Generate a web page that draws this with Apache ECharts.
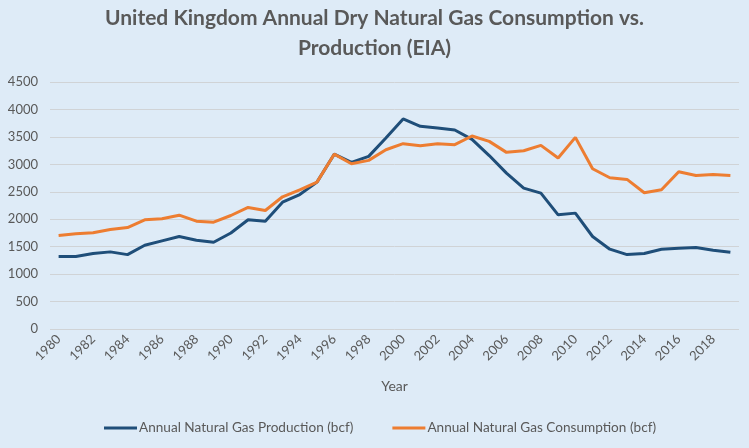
<!DOCTYPE html>
<html>
<head>
<meta charset="utf-8">
<script src="https://cdn.jsdelivr.net/npm/echarts@6/dist/echarts.min.js"></script>
<style>
html,body{margin:0;padding:0;background:#DEEBF7;}
#c{width:749px;height:448px;}
</style>
</head>
<body>
<div id="c"></div>
<script>
const years = [];
for (let y = 1980; y <= 2019; y++) years.push(String(y));
const production = [1320,1320,1375,1405,1355,1525,1605,1685,1618,1580,1750,1990,1965,2310,2450,2676,3185,3035,3145,3480,3826,3692,3662,3625,3455,3160,2840,2567,2476,2080,2111,1685,1454,1356,1375,1454,1472,1484,1436,1400];
const consumption = [1703,1734,1752,1813,1849,1989,2007,2074,1965,1946,2068,2214,2159,2409,2536,2676,3185,3011,3072,3266,3376,3339,3376,3358,3516,3418,3218,3248,3345,3114,3491,2920,2755,2725,2482,2536,2865,2798,2816,2798];
const yTicks = {min:0, max:4500, interval:500};

const chart = echarts.init(document.getElementById('c'));
chart.setOption({
  backgroundColor:'#DEEBF7',
  animation:false,
  title:{
    text:'United Kingdom Annual Dry Natural Gas Consumption vs.\nProduction (EIA)',
    left:'center', top:3, padding:0,
    textStyle:{fontFamily:'Lato', fontWeight:'bold', fontSize:21, color:'#595959', lineHeight:30}
  },
  legend:{
    bottom:8, left:99, itemGap:39, itemWidth:33, itemHeight:3,
    icon:'rect',
    textStyle:{fontFamily:'Lato', fontSize:13.6, color:'#595959', padding:[0,0,0,-3]},
    data:['Annual Natural Gas Production (bcf)','Annual Natural Gas Consumption (bcf)']
  },
  grid:{left:50, right:10, top:82, bottom:119},
  xAxis:{
    type:'category', data:years, boundaryGap:true,
    name:'Year', nameLocation:'middle', nameGap:50,
    nameTextStyle:{fontFamily:'Lato', fontSize:14, color:'#595959'},
    axisLine:{show:false}, axisTick:{show:false},
    axisLabel:{interval:1, rotate:45, fontFamily:'Lato', fontSize:13, color:'#595959', margin:8}
  },
  yAxis:{
    type:'value', min:yTicks.min, max:yTicks.max, interval:yTicks.interval,
    axisLine:{show:false}, axisTick:{show:false},
    axisLabel:{fontFamily:'Lato', fontSize:13, color:'#595959', margin:12, formatter:function(v){return String(v);}},
    splitLine:{lineStyle:{color:'#D0D3D6', width:1}}
  },
  series:[
    {name:'Annual Natural Gas Production (bcf)', type:'line', data:production, showSymbol:false,
     lineStyle:{width:3, color:'#1F4E79'}, itemStyle:{color:'#1F4E79'}},
    {name:'Annual Natural Gas Consumption (bcf)', type:'line', data:consumption, showSymbol:false,
     lineStyle:{width:3, color:'#ED7D31'}, itemStyle:{color:'#ED7D31'}}
  ]
});
</script>
</body>
</html>
